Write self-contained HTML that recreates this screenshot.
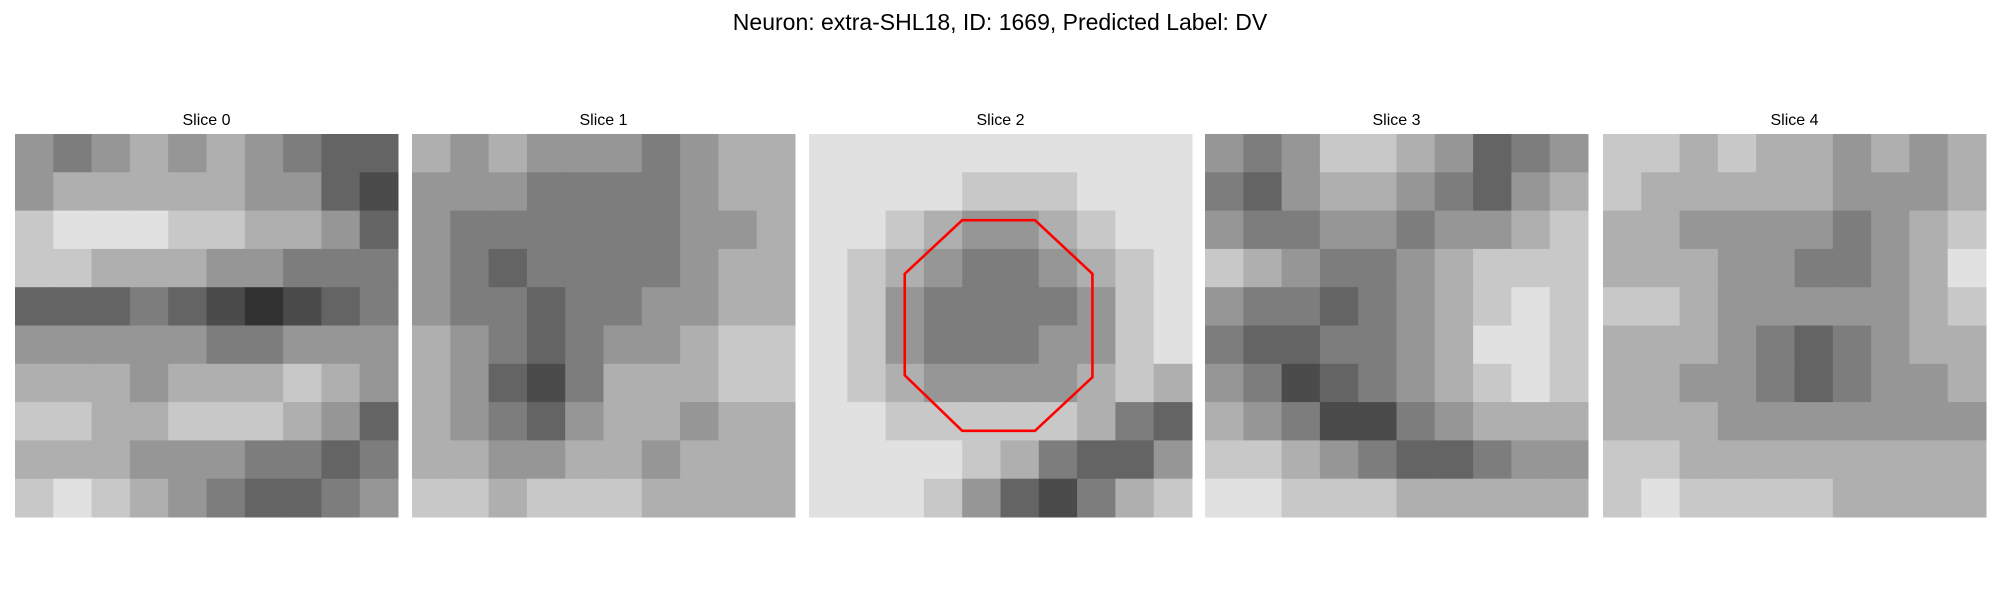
<!DOCTYPE html>
<html><head><meta charset="utf-8"><style>
body{margin:0;background:#fff;width:2000px;height:600px;overflow:hidden}
svg{display:block;font-family:"Liberation Sans","DejaVu Sans",sans-serif}
</style></head><body>
<svg id="fig" width="2000" height="600" viewBox="0 0 2000 600">
<text x="1000" y="30" font-size="23" text-anchor="middle" fill="#000">Neuron: extra-SHL18, ID: 1669, Predicted Label: DV</text>
</svg>
<script>
const sliceTitles = ["Slice 0","Slice 1","Slice 2","Slice 3","Slice 4"];
const slice0 = [[5,4,5,6,5,6,5,4,3,3],[5,6,6,6,6,6,5,5,3,2],[7,8,8,8,7,7,6,6,5,3],[7,7,6,6,6,5,5,4,4,4],[3,3,3,4,3,2,1,2,3,4],[5,5,5,5,5,4,4,5,5,5],[6,6,6,5,6,6,6,7,6,5],[7,7,6,6,7,7,7,6,5,3],[6,6,6,5,5,5,4,4,3,4],[7,8,7,6,5,4,3,3,4,5]];
const slice1 = [[6,5,6,5,5,5,4,5,6,6],[5,5,5,4,4,4,4,5,6,6],[5,4,4,4,4,4,4,5,5,6],[5,4,3,4,4,4,4,5,6,6],[5,4,4,3,4,4,5,5,6,6],[6,5,4,3,4,5,5,6,7,7],[6,5,3,2,4,6,6,6,7,7],[6,5,4,3,5,6,6,5,6,6],[6,6,5,5,6,6,5,6,6,6],[7,7,6,7,7,7,6,6,6,6]];
const slice2 = [[8,8,8,8,8,8,8,8,8,8],[8,8,8,8,7,7,7,8,8,8],[8,8,7,6,5,5,6,7,8,8],[8,7,6,5,4,4,5,6,7,8],[8,7,5,4,4,4,4,5,7,8],[8,7,5,4,4,4,5,5,7,8],[8,7,6,5,5,5,5,6,7,6],[8,8,7,7,7,7,7,6,4,3],[8,8,8,8,7,6,4,3,3,5],[8,8,8,7,5,3,2,4,6,7]];
const slice3 = [[5,4,5,7,7,6,5,3,4,5],[4,3,5,6,6,5,4,3,5,6],[5,4,4,5,5,4,5,5,6,7],[7,6,5,4,4,5,6,7,7,7],[5,4,4,3,4,5,6,7,8,7],[4,3,3,4,4,5,6,8,8,7],[5,4,2,3,4,5,6,7,8,7],[6,5,4,2,2,4,5,6,6,6],[7,7,6,5,4,3,3,4,5,5],[8,8,7,7,7,6,6,6,6,6]];
const slice4 = [[7,7,6,7,6,6,5,6,5,6],[7,6,6,6,6,6,5,5,5,6],[6,6,5,5,5,5,4,5,6,7],[6,6,6,5,5,4,4,5,6,8],[7,7,6,5,5,5,5,5,6,7],[6,6,6,5,4,3,4,5,6,6],[6,6,5,5,4,3,4,5,5,6],[6,6,6,5,5,5,5,5,5,5],[7,7,6,6,6,6,6,6,6,6],[7,8,7,7,7,7,6,6,6,6]];
const slices = [slice0,slice1,slice2,slice3,slice4];
// octagon in image fraction coords (slice 2)
const roiX = [0.19,0.38,0.53,0.53,0.38,0.19,0.04,0.04].map(v=>v+0.21);
const roiY = [0.225,0.225,0.365,0.635,0.775,0.775,0.63,0.365];
const roiSlice = 2;

const NS="http://www.w3.org/2000/svg";
const svg=document.getElementById('fig');
const panelLeft=[15,412,809,1205,1603], panelTop=134, panelSize=383;
function gray(v){const g=Math.round(25+v*25);return `rgb(${g},${g},${g})`;}
slices.forEach((grid,p)=>{
  const g=document.createElementNS(NS,'g');
  
  
  const n=grid.length, c=panelSize/n;
  grid.forEach((row,r)=>row.forEach((v,k)=>{
    const rc=document.createElementNS(NS,'rect');
    rc.setAttribute('x',panelLeft[p]+k*c);rc.setAttribute('y',panelTop+r*c);
    rc.setAttribute('width',c+0.5);rc.setAttribute('height',c+0.5);
    rc.setAttribute('fill',gray(v));
    g.appendChild(rc);
  }));
  svg.appendChild(g);
  const t=document.createElementNS(NS,'text');
  
  
  t.setAttribute('x',panelLeft[p]+panelSize/2);t.setAttribute('y',125);
  t.setAttribute('font-size','16');t.setAttribute('text-anchor','middle');
  t.textContent=sliceTitles[p];
  svg.appendChild(t);
});
const poly=document.createElementNS(NS,'polygon');


poly.setAttribute('points',roiX.map((x,i)=>(panelLeft[roiSlice]+x*panelSize)+','+(panelTop+roiY[i]*panelSize)).join(' '));
poly.setAttribute('fill','none');poly.setAttribute('stroke','#ff0000');poly.setAttribute('stroke-width','2.6');
svg.appendChild(poly);
</script>
</body></html>
